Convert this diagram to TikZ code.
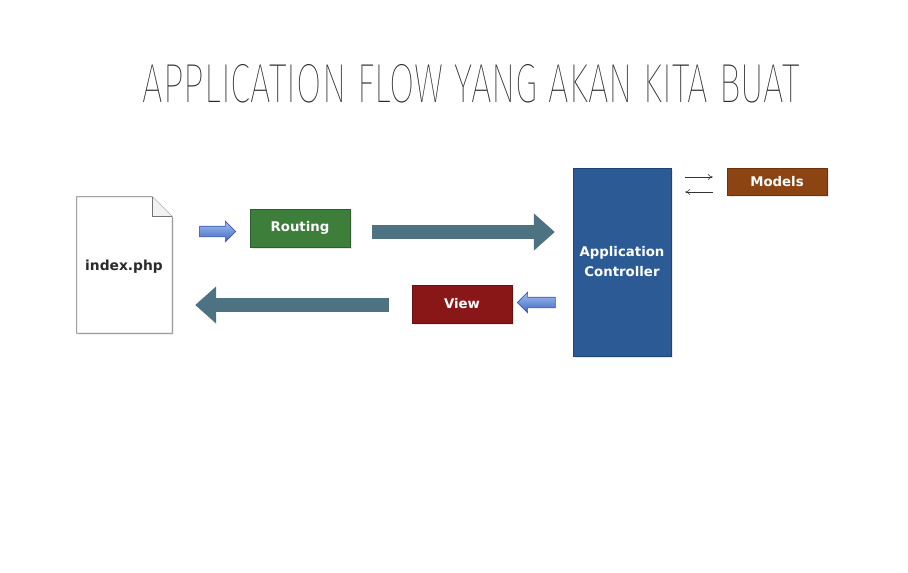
\documentclass[tikz,border=0pt]{standalone}
\usepackage{fontspec}
\usepackage{graphicx}
\setmainfont{DejaVu Sans}
\newfontfamily\titlefont{Fira Sans Thin}
\usetikzlibrary{calc,arrows.meta,shadows,shapes.arrows}
\definecolor{routegreen}{HTML}{3D7E3B}
\definecolor{ctrlblue}{HTML}{2B5A95}
\definecolor{modelbrown}{HTML}{8C4512}
\definecolor{viewred}{HTML}{8A1717}
\definecolor{teal}{HTML}{4D7383}
\definecolor{titlegray}{HTML}{2A2A2A}
\definecolor{arrtop}{HTML}{A4C0F2}
\definecolor{arrbot}{HTML}{3F66C0}
\definecolor{arrline}{HTML}{3558A8}
\begin{document}
\begin{tikzpicture}[x=1pt,y=-1pt,
  box/.style={draw=#1!75!black, fill=#1, text=white,
    font=\bfseries\fontsize{13.3}{20}\selectfont, inner sep=0pt,
    drop shadow={opacity=0.18, shadow xshift=2pt, shadow yshift=-2pt}},
  bigarrow/.style={draw=teal, line width=14pt,
    -{Triangle[length=21pt,width=36pt]}},
  smallarrow/.style={single arrow, draw=arrline, line width=0.6pt,
    top color=arrtop, bottom color=arrbot,
    inner xsep=0pt, inner ysep=5pt, single arrow head extend=5pt,
    minimum height=36pt, single arrow head indent=0pt},
  thinarrow/.style={draw=black!80, line width=0.6pt,
    -{To[length=5pt,width=6pt]}},
  docline/.style={draw=black!55, line width=0.8pt, fill=white}]
\useasboundingbox (0,0) rectangle (908,573);
\fill[white] (0,0) rectangle (908,573);

\node[text=titlegray, inner sep=0pt] (title) at (471.5,84)
  {\resizebox{657pt}{38pt}{\titlefont APPLICATION FLOW YANG AKAN KITA BUAT}};

% document
\node[minimum width=95pt, minimum height=136pt, inner sep=0pt] (doc) at (124.5,265) {};
\draw[docline, drop shadow={opacity=0.12, shadow xshift=2pt, shadow yshift=-2pt}]
  (doc.south west) -- (doc.north west) -- ($(doc.north east)+(-20,0)$)
  -- ($(doc.north east)+(0,20)$) -- (doc.south east) -- cycle;
\draw[docline, fill=black!5] ($(doc.north east)+(-20,0)$) -- ($(doc.north east)+(-20,20)$)
  -- ($(doc.north east)+(0,20)$);
\node[text=titlegray, font=\bfseries\fontsize{13.8}{15}\selectfont] (docl) at (124,267) {index.php};

% boxes
\node[box=routegreen, minimum width=100pt, minimum height=38pt] (routing) at (300,228) {Routing};
\node[box=ctrlblue, minimum width=98pt, minimum height=188pt, align=center] (ctrl) at (622,262) {Application\\Controller};
\node[box=modelbrown, minimum width=100pt, minimum height=27pt] (models) at (777,181.5) {Models};
\node[box=viewred, minimum width=100pt, minimum height=38pt] (view) at (462,304) {View};

% small blue arrows
\node[smallarrow] (a1) at (215,231.5) {};
\node[smallarrow, minimum height=38pt, shape border rotate=180] (a2) at (539,302.5) {};

% big arrows
\draw[bigarrow] ($(routing.east)+(22,4)$) -- ($(routing.east -| ctrl.west)+(-18,4)$);
\draw[bigarrow] ($(view.west)+(-23,1)$) -- ($(view.west -| doc.east)+(23,1)$);

% thin arrows controller <-> models
\draw[thinarrow] ($(ctrl.east |- models.west)+(14,-4.5)$) -- ($(models.west)+(-14,-4.5)$);
\draw[thinarrow] ($(models.west)+(-14,10.5)$) -- ($(ctrl.east |- models.west)+(14,10.5)$);
\end{tikzpicture}
\end{document}
